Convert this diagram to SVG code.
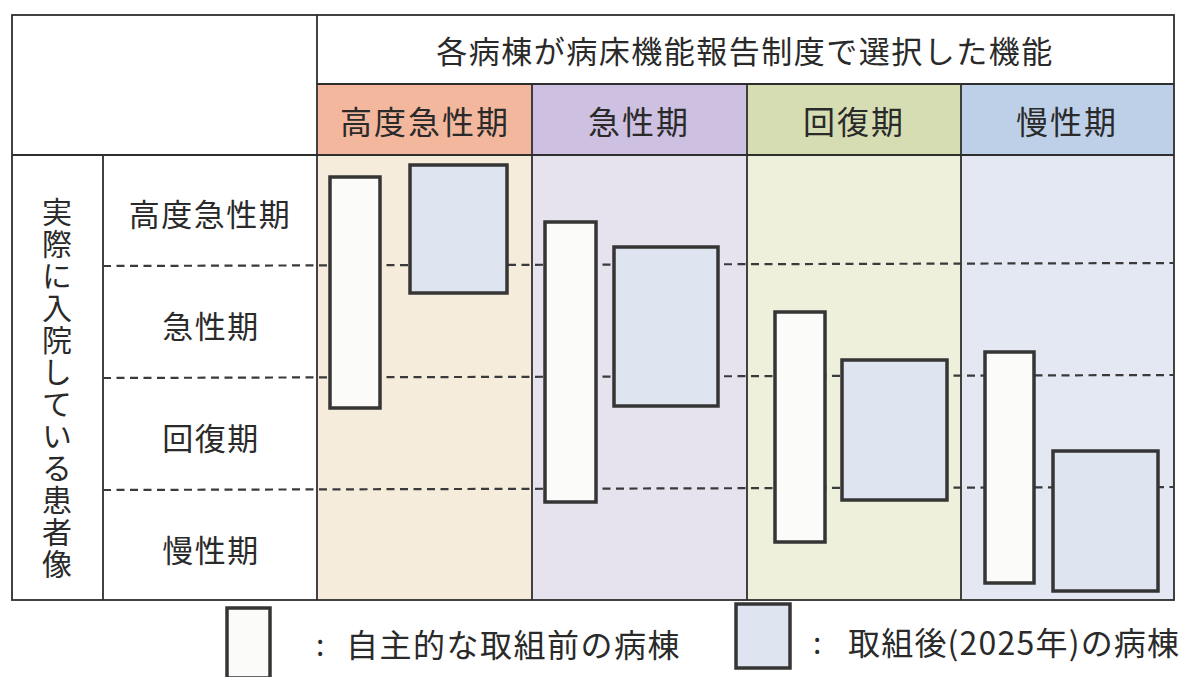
<svg xmlns="http://www.w3.org/2000/svg" width="1196" height="677" viewBox="0 0 1196 677">
<style>
  .t { font-family: "Noto Sans CJK JP", "Noto Sans", sans-serif; fill: #2a2a2a; }
  .hd { font-size: 31px; text-anchor: middle; dominant-baseline: central; letter-spacing: 1.5px; }
  .ch { font-size: 32px; text-anchor: middle; dominant-baseline: central; letter-spacing: 2px; }
  .lg { font-size: 32px; dominant-baseline: central; }
  .grid { stroke: #2e2e2e; stroke-width: 1.8; fill: none; }
  .dash { stroke: #3a3a3a; stroke-width: 2.2; stroke-dasharray: 8 5.5; fill: none; }
  .before { fill: #fbfbfa; stroke: #353535; stroke-width: 3.5; }
  .after { fill: #dfe5f0; stroke: #353535; stroke-width: 3.5; }
</style>
<rect width="1196" height="677" fill="#ffffff"/>

<g id="column-backgrounds">
  <rect x="318" y="84" width="214" height="71" fill="#f3b79d"/>
  <rect x="532" y="84" width="215" height="71" fill="#cdc0e0"/>
  <rect x="747" y="84" width="214" height="71" fill="#d6ddb3"/>
  <rect x="961" y="84" width="213" height="71" fill="#bdd0e8"/>
  <rect x="318" y="155" width="214" height="445" fill="#f5ecdc"/>
  <rect x="532" y="155" width="215" height="445" fill="#e6e3ef"/>
  <rect x="747" y="155" width="214" height="445" fill="#eef0dc"/>
  <rect x="961" y="155" width="213" height="445" fill="#e3e8f2"/>
</g>

<g id="table-grid">
  <rect x="12" y="15" width="1162" height="585" class="grid" stroke-width="2.2"/>
  <line x1="317" y1="15" x2="317" y2="600" class="grid"/>
  <line x1="317" y1="84" x2="1174" y2="84" class="grid"/>
  <line x1="12" y1="155" x2="1174" y2="155" class="grid" stroke-width="2.2"/>
  <line x1="103" y1="155" x2="103" y2="600" class="grid"/>
  <line x1="532" y1="84" x2="532" y2="600" class="grid"/>
  <line x1="747" y1="84" x2="747" y2="600" class="grid"/>
  <line x1="961" y1="84" x2="961" y2="600" class="grid"/>
</g>

<g id="connectors">
  <line x1="103" y1="266" x2="1174" y2="263" class="dash"/>
  <line x1="103" y1="378" x2="1174" y2="375" class="dash"/>
  <line x1="103" y1="490" x2="1174" y2="487" class="dash"/>
</g>

<g id="header-title">
  <text x="745" y="49" class="t hd">各病棟が病床機能報告制度で選択した機能</text>
</g>
<g id="col-high-acute"><text x="425" y="120" class="t ch">高度急性期</text></g>
<g id="col-acute"><text x="639" y="120" class="t ch">急性期</text></g>
<g id="col-recovery"><text x="854" y="120" class="t ch">回復期</text></g>
<g id="col-chronic"><text x="1067" y="120" class="t ch">慢性期</text></g>

<g id="row-axis-label">
  <text x="57" y="389" class="t" font-size="30" text-anchor="middle" style="writing-mode: vertical-rl; letter-spacing: 2px;">実際に入院している患者像</text>
</g>
<g id="row-high-acute"><text x="210" y="212" class="t hd">高度急性期</text></g>
<g id="row-acute"><text x="211" y="324" class="t hd">急性期</text></g>
<g id="row-recovery"><text x="211" y="436" class="t hd">回復期</text></g>
<g id="row-chronic"><text x="211" y="548" class="t hd">慢性期</text></g>

<g id="bars-high-acute">
  <rect x="330" y="177" width="50" height="231" class="before"/>
  <rect x="410" y="165" width="97" height="128" class="after"/>
</g>
<g id="bars-acute">
  <rect x="545" y="222" width="51" height="280" class="before"/>
  <rect x="614" y="247" width="104" height="159" class="after"/>
</g>
<g id="bars-recovery">
  <rect x="775" y="312" width="50" height="230" class="before"/>
  <rect x="842" y="360" width="105" height="140" class="after"/>
</g>
<g id="bars-chronic">
  <rect x="985" y="352" width="49" height="231" class="before"/>
  <rect x="1053" y="451" width="105" height="140" class="after"/>
</g>

<g id="legend-before">
  <rect x="227" y="608" width="43" height="70" class="before" stroke-width="3"/>
  <text x="316" y="643" class="t lg" style="font-size:30px">:</text>
  <text x="346" y="643" class="t lg" style="letter-spacing:1.5px">自主的な取組前の病棟</text>
</g>
<g id="legend-after">
  <rect x="736" y="604" width="54" height="64" class="after" stroke-width="3"/>
  <text x="813" y="641" class="t lg" style="font-size:30px">:</text>
  <text x="848" y="641" class="t lg" style="letter-spacing:1.2px">取組後(2025年)の病棟</text>
</g>
</svg>
